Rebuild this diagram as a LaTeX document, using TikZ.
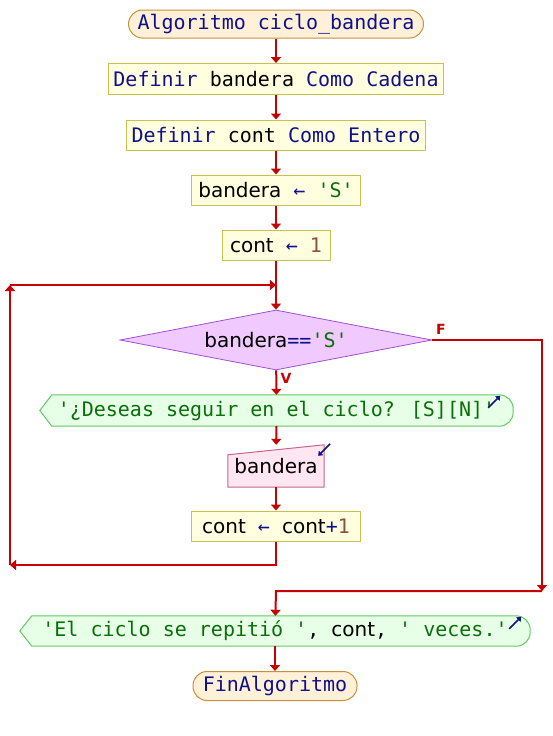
\documentclass[tikz,border=0pt]{standalone}
\usepackage{fontspec}
\setmainfont{DejaVu Sans}[Ligatures=TeXOff]
\newfontfamily\psmono{DejaVu Sans Mono}[Ligatures=TeXOff]
\newfontfamily\pssans{DejaVu Sans}[Ligatures=TeXOff]
\usepackage{tikz}
\usetikzlibrary{arrows.meta,shapes.geometric,backgrounds}
\definecolor{FlowRed}{HTML}{C80000}
\definecolor{KeyNavy}{HTML}{10108A}
\definecolor{StrGreen}{HTML}{0A6E0A}
\definecolor{NumBrown}{HTML}{8C5040}
\definecolor{TermFill}{HTML}{FFF0D8}
\definecolor{TermLine}{HTML}{C8903C}
\definecolor{ProcFill}{HTML}{FFFFE0}
\definecolor{ProcLine}{HTML}{C8C050}
\definecolor{CondFill}{HTML}{F0CAFF}
\definecolor{CondLine}{HTML}{A050D2}
\definecolor{OutFill}{HTML}{E6FFE6}
\definecolor{OutLine}{HTML}{64C864}
\definecolor{ReadFill}{HTML}{FFE6F0}
\definecolor{ReadLine}{HTML}{C8648C}
\newcommand{\kw}[1]{\textcolor{KeyNavy}{#1}}
\newcommand{\strg}[1]{\textcolor{StrGreen}{#1}}
\newcommand{\numb}[1]{\textcolor{NumBrown}{#1}}
\newcommand{\idf}[1]{{\pssans #1}}
\tikzset{
  every node/.style={font=\psmono\fontsize{20}{24}\selectfont, inner sep=0pt},
  term/.style={draw=TermLine, fill=TermFill, rounded corners=14pt, line width=1pt},
  proc/.style={draw=ProcLine, fill=ProcFill, line width=1pt},
  cond/.style={diamond, draw=CondLine, fill=CondFill, aspect=5.2, line width=0.8pt},
  outbox/.style={draw=OutLine, fill=OutFill, line width=1pt},
  readbox/.style={draw=ReadLine, fill=ReadFill, line width=1pt},
  flow/.style={draw=FlowRed, line width=2pt, -{Triangle[length=6pt,width=10pt]}},
  icon/.style={draw=KeyNavy, line width=1.5pt, -{Triangle[length=4pt,width=6pt]}},
  tag/.style={font=\pssans\bfseries\fontsize{14}{16}\selectfont, text=FlowRed}
}
\begin{document}
\begin{tikzpicture}[x=1pt, y=-1pt]
    \useasboundingbox (0,0) rectangle (552,736);

    \node[term, minimum width=295pt, minimum height=28pt] (start) at (276,24)
      {\kw{Algoritmo ciclo\_bandera}};
    \node[proc, minimum width=335pt, minimum height=31pt] (def1) at (276,79)
      {\kw{Definir} bandera \kw{Como Cadena}};
    \node[proc, minimum width=299pt, minimum height=30pt] (def2) at (276,135)
      {\kw{Definir} cont \kw{Como Entero}};
    \node[proc, minimum width=169pt, minimum height=30pt] (asig1) at (276,190)
      {\idf{bandera} \kw{←} \strg{'S'}};
    \node[proc, minimum width=108pt, minimum height=30pt] (asig2) at (276,245)
      {\idf{cont} \kw{←} \numb{1}};
    \node[cond, minimum width=312pt, minimum height=60pt] (cond) at (276,340)
      {\idf{bandera}\kw{==}\strg{'S'}};
    \node[minimum width=473pt, minimum height=31pt] (out1) at (276.5,410.5)
      {\strg{'¿Deseas seguir en el ciclo? [S][N]'}};
    \node[minimum width=96pt, minimum height=42pt] (leer) at (276,466)
      {\raisebox{-5pt}{\idf{bandera}}};
    \node[proc, minimum width=169pt, minimum height=30pt] (asig3) at (276,526)
      {\idf{cont} \kw{←} \idf{cont}\kw{+}\numb{1}};
    \node[minimum width=510pt, minimum height=30pt] (out2) at (275,631)
      {\strg{'El ciclo se repitió '}, \idf{cont}, \strg{' veces.'}};
    \node[term, minimum width=164pt, minimum height=29pt] (fin) at (275,686)
      {\kw{FinAlgoritmo}};

    \begin{scope}[on background layer]
      \path[outbox] (out1.west) -- ([xshift=12pt]out1.north west)
        [rounded corners=14pt] -- (out1.north east) -- (out1.south east)
        [sharp corners] -- ([xshift=12pt]out1.south west) -- cycle;
      \path[outbox] (out2.west) -- ([xshift=12pt]out2.north west)
        [rounded corners=14pt] -- (out2.north east) -- (out2.south east)
        [sharp corners] -- ([xshift=12pt]out2.south west) -- cycle;
      \path[readbox] (leer.south west) -- (leer.south east) -- (leer.north east)
        -- ([yshift=-10pt]leer.north west) -- cycle;
    \end{scope}

    \draw[icon] ([xshift=-25pt,yshift=-13pt]out1.north east) -- ++(12,-12);
    \draw[icon] ([xshift=-21pt,yshift=-13pt]out2.north east) -- ++(12,-12);
    \draw[icon] ([xshift=6pt,yshift=1pt]leer.north east) -- ++(-12,12);

    \coordinate (join) at (276,285);
    \coordinate (lb) at (276,565);
    \coordinate (lc) at (10,565);
    \coordinate (ld) at (10,285);
    \coordinate (fa) at (542,340);
    \coordinate (fb) at (542,591);
    \coordinate (fc) at (276,591);

    \draw[flow] (start) -- (def1);
    \draw[flow] (def1) -- (def2);
    \draw[flow] (def2) -- (asig1);
    \draw[flow] (asig1) -- (asig2);
    \draw[flow] (asig2) -- (cond);
    \draw[flow] (cond) -- (out1);
    \draw[flow] (out1) -- (leer);
    \draw[flow] (leer) -- (asig3);
    \draw[flow] (asig3) -- (lb) -- (lc);
    \draw[flow] (lc) -- (ld);
    \draw[flow] (ld) -- (join);
    \draw[flow] (cond.east) -- (fa) -- (fb);
    \draw[flow] (fb) -- (fc) -- (out2);
    \draw[flow] (out2) -- (fin);

    \node[tag] (vlab) at (286,378) {V};
    \node[tag] (flab) at (441,329) {F};
\end{tikzpicture}
\end{document}
